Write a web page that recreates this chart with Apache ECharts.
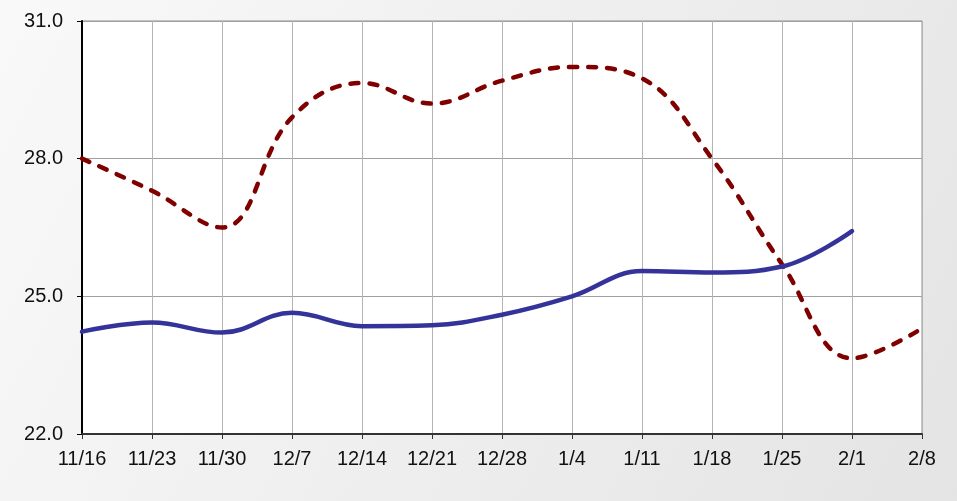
<!DOCTYPE html>
<html>
<head>
<meta charset="utf-8">
<script src="https://cdn.jsdelivr.net/npm/echarts@6/dist/echarts.min.js"></script>
<style>
  html, body { margin: 0; padding: 0; }
  #chart { width: 957px; height: 501px; }
</style>
</head>
<body>
<div id="chart"></div>
<script>
// weekly categories
var categories = ["11/16", "11/23", "11/30", "12/7", "12/14", "12/21", "12/28", "1/4", "1/11", "1/18", "1/25", "2/1", "2/8"];
// dashed dark red series
var seriesRed = [28.0, 27.3, 26.5, 28.9, 29.65, 29.2, 29.7, 30.0, 29.75, 28.0, 25.7, 23.65, 24.3];
// solid blue series (no value for 2/8)
var seriesBlue = [24.23, 24.43, 24.21, 24.64, 24.35, 24.37, 24.6, 25.0, 25.55, 25.52, 25.65, 26.42, null];
var yMin = 22, yMax = 31, yStep = 3;

var myChart = echarts.init(document.getElementById("chart"));
myChart.setOption({
  animation: false,
  backgroundColor: new echarts.graphic.LinearGradient(0, 0, 1, 1, [
    { offset: 0, color: "#f9f9f9" },
    { offset: 1, color: "#e4e4e4" }
  ]),
  textStyle: { fontFamily: "Liberation Sans, Arial, sans-serif" },
  grid: {
    left: 82,
    right: 35,
    top: 21,
    bottom: 67,
    show: true,
    backgroundColor: "#ffffff",
    borderColor: "#8c8c8c",
    borderWidth: 1
  },
  xAxis: {
    type: "category",
    data: categories,
    boundaryGap: false,
    axisLine: { lineStyle: { color: "#333333", width: 2 } },
    axisTick: { show: true, inside: false, length: 5, lineStyle: { color: "#333333" } },
    axisLabel: { color: "#111111", fontSize: 20, margin: 15 },
    splitLine: { show: true, lineStyle: { color: "#b4b4b4", width: 1 } }
  },
  yAxis: {
    type: "value",
    min: yMin,
    max: yMax,
    interval: yStep,
    axisLine: { show: true, lineStyle: { color: "#000000", width: 2 } },
    axisTick: { show: true, length: 5, lineStyle: { color: "#000000" } },
    axisLabel: {
      color: "#111111",
      fontSize: 20,
      margin: 19,
      formatter: function (v) { return v.toFixed(1); }
    },
    splitLine: { show: true, lineStyle: { color: "#a0a0a0", width: 1 } }
  },
  series: [
    {
      name: "red",
      type: "line",
      data: seriesRed,
      smooth: 0.4,
      symbol: "none",
      z: 3,
      lineStyle: { color: "#800000", width: 4.5, type: [8, 11], cap: "round" }
    },
    {
      name: "blue",
      type: "line",
      data: seriesBlue,
      smooth: 0.4,
      symbol: "none",
      z: 4,
      lineStyle: { color: "#333399", width: 4.5, cap: "round" }
    }
  ]
});
</script>
</body>
</html>
